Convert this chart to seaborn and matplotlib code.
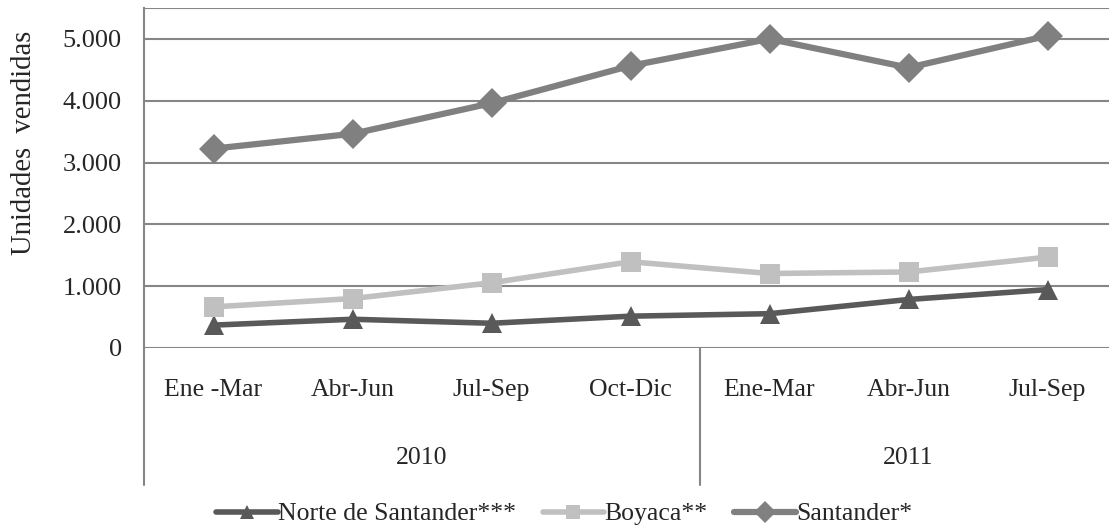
import pandas as pd
import matplotlib.pyplot as plt
import seaborn as sns
from matplotlib.transforms import blended_transform_factory

# Data
quarters = ["Ene -Mar", "Abr-Jun", "Jul-Sep", "Oct-Dic", "Ene-Mar", "Abr-Jun", "Jul-Sep"]
years = ["2010", "2011"]
year_sizes = [4, 3]
norte = [370, 465, 400, 515, 555, 785, 945]
boyaca = [665, 800, 1055, 1395, 1205, 1230, 1470]
santander = [3225, 3465, 3960, 4565, 5000, 4535, 5050]

series_names = ["Norte de Santander***", "Boyaca**", "Santander*"]
series_vals = [norte, boyaca, santander]
colors = ["#595959", "#c0c0c0", "#808080"]
markers = ["^", "s", "D"]
widths = [4.0, 4.0, 4.5]
msizes = [14, 14, 15]

rows = []
for name, vals in zip(series_names, series_vals):
    for i, v in enumerate(vals):
        rows.append({"pos": i, "valor": v, "serie": name})
df = pd.DataFrame(rows)

sns.set_style("white")
plt.rcParams["font.family"] = ["Liberation Serif", "DejaVu Serif"]
FS = 18.5

fig = plt.figure(figsize=(11.09, 5.31), dpi=100)
W, H = 1109, 531
left, right, top, bottom = 144, 144 + 7 * 139, 8, 348
ax = fig.add_axes([left / W, 1 - bottom / H, (right - left) / W, (bottom - top) / H])

for name, c, m, lw, ms in zip(series_names, colors, markers, widths, msizes):
    sns.lineplot(data=df[df["serie"] == name], x="pos", y="valor", ax=ax,
                 color=c, marker=m, markersize=ms, linewidth=lw,
                 markeredgewidth=0, label=name)

ax.set_xlim(-0.5, 6.5)
ax.set_ylim(0, 5500)
ax.set_yticks(range(0, 5001, 1000))
ax.set_yticklabels(["0", "1.000", "2.000", "3.000", "4.000", "5.000"], fontsize=19)
ax.tick_params(axis="y", length=0, pad=16)
ax.set_xticks([])
ax.set_xlabel("")
ax.set_ylabel("")
fig.text(24 / W, 1 - 143 / H, "Unidades  vendidas", rotation=90, ha="center", va="center", fontsize=20.6)

grid_c = "#868686"
for y in range(0, 5501, 1000):
    ax.axhline(y, color=grid_c, lw=1.5, zorder=0)
ax.axhline(5500, color=grid_c, lw=1.5, zorder=0)
for s in ["top", "right", "bottom"]:
    ax.spines[s].set_visible(False)
ax.spines["left"].set_color(grid_c)
ax.spines["left"].set_linewidth(1.5)

# two-level category axis below the plot
tr = blended_transform_factory(ax.transData, ax.transAxes)
h = bottom - top
def ay(py):
    return (bottom - py) / h

ax.plot([-0.5, -0.5], [0, ay(485)], transform=tr, color=grid_c, lw=1.5, clip_on=False)
ax.plot([3.5, 3.5], [0, ay(485)], transform=tr, color=grid_c, lw=1.5, clip_on=False)
for i, q in enumerate(quarters):
    ax.text(i, ay(390), q, transform=tr, ha="center", va="center", fontsize=FS)
start = 0
for yr, n in zip(years, year_sizes):
    ax.text(start + (n - 1) / 2, ay(458), yr, transform=tr, ha="center", va="center", fontsize=FS)
    start += n

leg = ax.legend(loc="center", bbox_to_anchor=(564 / W, 1 - 514 / H), bbox_transform=fig.transFigure,
                ncol=3, frameon=False, fontsize=FS, handlelength=2.4, handletextpad=0.0,
                columnspacing=1.05, markerscale=0.72)

fig.savefig("out.png", dpi=100)
